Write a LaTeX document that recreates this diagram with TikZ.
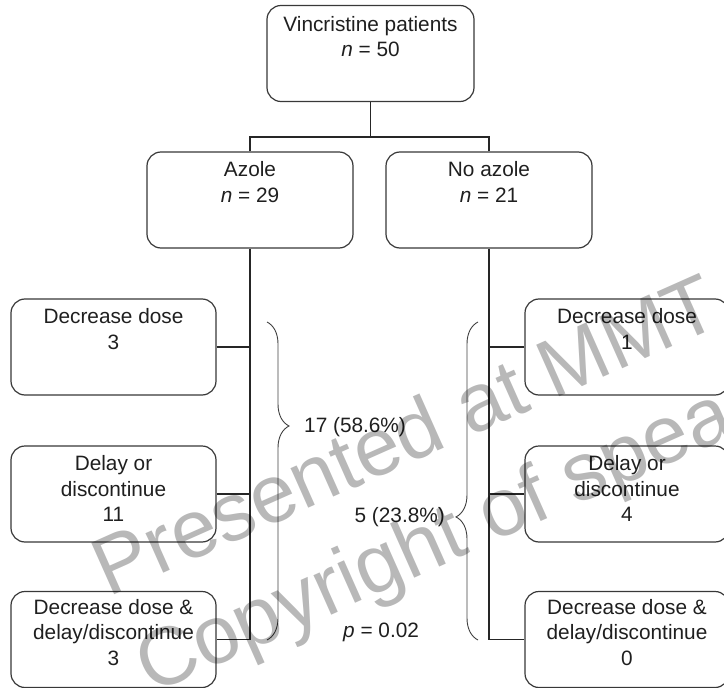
\documentclass[tikz,border=0pt]{standalone}
\usepackage{fontspec}
\setmainfont{Liberation Sans}
\usetikzlibrary{decorations.pathreplacing}
\begin{document}
\begin{tikzpicture}[x=1pt,y=-1pt,
  box/.style={draw=black!78, line width=1.2pt, rounded corners=14pt, inner sep=0pt, minimum height=96pt},
  lbl/.style={anchor=north, inner sep=0pt, align=center, text=black!88, font=\fontsize{20.8}{25.5}\selectfont, execute at begin node=\rule{0pt}{16pt}},
  conn/.style={draw=black!85, line width=1.6pt},
  brc/.style={draw=black!75, line width=0.9pt, decorate, decoration={brace, amplitude=22pt, aspect=#1}},
  stat/.style={inner sep=0pt, text=black!88, font=\fontsize{20.8}{25.5}\selectfont},
  wm/.style={inner sep=0pt, anchor=base west, rotate=24, text=black, text opacity=0.28, font=\fontsize{82}{82}\selectfont}]
\useasboundingbox (0,0) rectangle (724,688);

% boxes
\node[box, minimum width=207pt] (top) at (370.5,53.5) {};
\node[box, minimum width=206pt] (az) at (250,200) {};
\node[box, minimum width=206pt] (naz) at (489,200) {};
\node[box, minimum width=205pt] (L1) at (113.5,347) {};
\node[box, minimum width=205pt] (L2) at (113.5,494) {};
\node[box, minimum width=205pt] (L3) at (113.5,639.5) {};
\node[box, minimum width=204pt] (R1) at (627,347) {};
\node[box, minimum width=204pt] (R2) at (627,494) {};
\node[box, minimum width=204pt] (R3) at (627,639.5) {};

% labels
\node[lbl] (tTop) at ([yshift=-11pt]top.north) {Vincristine patients\\\textit{n} = 50};
\node[lbl] (tAz) at ([yshift=-10pt]az.north) {Azole\\\textit{n} = 29};
\node[lbl] (tNaz) at ([yshift=-10pt]naz.north) {No azole\\\textit{n} = 21};
\node[lbl] (tL1) at ([yshift=-10pt]L1.north) {Decrease dose\\3};
\node[lbl] (tL2) at ([yshift=-10pt]L2.north) {Delay or\\discontinue\\11};
\node[lbl] (tL3) at ([yshift=-8pt]L3.north) {Decrease dose \&\\delay/discontinue\\3};
\node[lbl] (tR1) at ([yshift=-10pt]R1.north) {Decrease dose\\1};
\node[lbl] (tR2) at ([yshift=-10pt]R2.north) {Delay or\\discontinue\\4};
\node[lbl] (tR3) at ([yshift=-8pt]R3.north) {Decrease dose \&\\delay/discontinue\\0};

% connectors
\coordinate (j) at (370.5,137);
\draw[conn] (top.south) -- (j);
\draw[conn] (az.north) |- (j);
\draw[conn] (naz.north) |- (j);
\draw[conn] (az.south) |- (L3.east);
\draw[conn] (L1.east) -- (L1.east -| az.south);
\draw[conn] (L2.east) -- (L2.east -| az.south);
\draw[conn] (naz.south) |- (R3.west);
\draw[conn] (R1.west) -- (R1.west -| naz.south);
\draw[conn] (R2.west) -- (R2.west -| naz.south);

% braces
\coordinate (b1s) at (267,322);
\coordinate (b1e) at (267,640);
\coordinate (b2s) at (478,640);
\coordinate (b2e) at (478,322);
\draw[brc=0.327] (b1s) -- (b1e);
\draw[brc=0.387] (b2s) -- (b2e);

% statistics
\node[stat, anchor=west] (s1) at (304,427) {17 (58.6\%)};
\node[stat, anchor=east] (s2) at (445,517) {5 (23.8\%)};
\node[stat, anchor=west] (s3) at (343,632) {\textit{p} = 0.02};

% watermark
\node[wm] (w1) at (108,598) {Presented at MMT};
\node[wm] (w2) at (151,695) {Copyright of spea};
\end{tikzpicture}
\end{document}
